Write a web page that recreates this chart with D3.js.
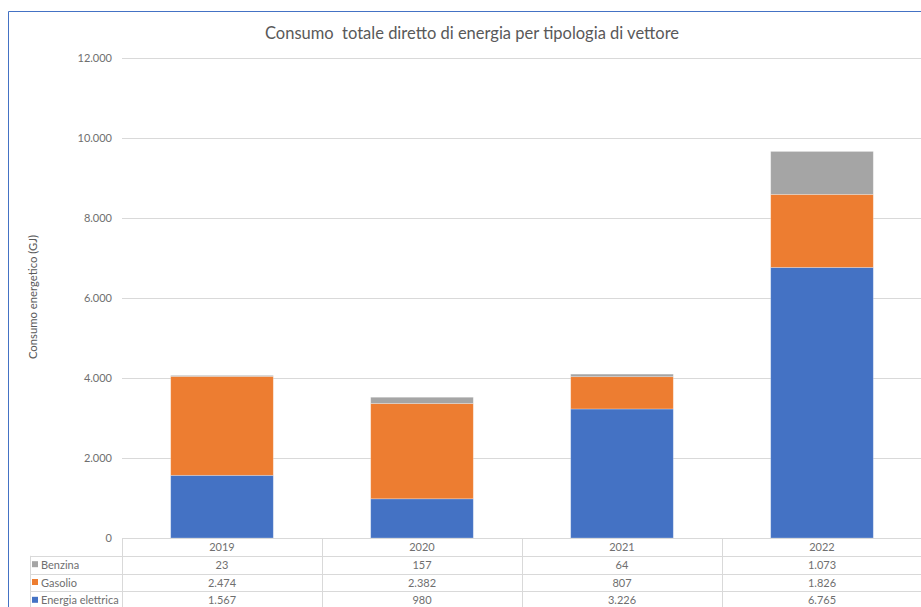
<!DOCTYPE html>
<html>
<head>
<meta charset="utf-8">
<script src="https://cdn.jsdelivr.net/npm/d3@7"></script>
<style>
  html, body { margin: 0; padding: 0; background: #fff; }
  svg { display: block; font-family: Lato, "Open Sans", "Liberation Sans", sans-serif; }
</style>
</head>
<body>
<svg id="chart" width="921" height="607"></svg>
<script>
// Years shown on the category axis
const years = ["2019", "2020", "2021", "2022"];
// Energy carriers, bottom to top of each stack
const seriesNames = ["Energia elettrica", "Gasolio", "Benzina"];
const energiaElettrica = [1567, 980, 3226, 6765];
const gasolio = [2474, 2382, 807, 1826];
const benzina = [23, 157, 64, 1073];
const seriesColors = ["#4472C4", "#ED7D31", "#A5A5A5"];
const yTicks = [0, 2000, 4000, 6000, 8000, 10000, 12000];

const valuesBySeries = {
  "Energia elettrica": energiaElettrica,
  "Gasolio": gasolio,
  "Benzina": benzina
};
const rows = years.map((y, i) => {
  const r = { year: y };
  seriesNames.forEach(s => r[s] = valuesBySeries[s][i]);
  return r;
});

const fmt = d3.formatLocale({ decimal: ",", thousands: ".", grouping: [3], currency: ["", "€"] }).format(",d");

const svg = d3.select("#chart");
const textColor = "#595959";
const tickColor = "#6f6f6f";
const gridColor = "#d9d9d9";

// Chart frame
svg.append("path")
  .attr("d", "M8.5,620 L8.5,11.5 L930,11.5")
  .attr("fill", "none").attr("stroke", "#4472C4").attr("stroke-width", 1);

// Title
svg.append("text")
  .attr("x", 472).attr("y", 39)
  .attr("text-anchor", "middle")
  .attr("font-size", 16.5)
  .attr("fill", textColor)
  .attr("xml:space", "preserve")
  .text("Consumo  totale diretto di energia per tipologia di vettore");

const plotLeft = 122, plotRight = 922, plotTop = 58, plotBottom = 538;

const x = d3.scaleBand().domain(years).range([plotLeft, plotRight]).paddingInner(0.487).paddingOuter(0.2435);
const xCol = d3.scaleBand().domain(years).range([plotLeft, plotRight]);
const y = d3.scaleLinear().domain([0, 12000]).range([plotBottom, plotTop]);

// Gridlines and tick labels
const yAxis = d3.axisLeft(y).tickValues(yTicks).tickSize(-(plotRight - plotLeft)).tickPadding(10).tickFormat(fmt);
const gy = svg.append("g").attr("transform", `translate(${plotLeft},0)`).call(yAxis);
gy.select(".domain").remove();
gy.selectAll(".tick line").attr("stroke", gridColor).attr("stroke-width", 1);
gy.selectAll(".tick text").attr("fill", tickColor).attr("font-size", 11).attr("font-family", "Lato, sans-serif");

// Y axis title
svg.append("text")
  .attr("transform", "translate(37,297) rotate(-90)")
  .attr("text-anchor", "middle")
  .attr("font-size", 11.3)
  .attr("fill", textColor)
  .text("Consumo energetico (GJ)");

// Stacked bars
const stacked = d3.stack().keys(seriesNames)(rows);
svg.append("g").selectAll("g")
  .data(stacked)
  .join("g")
  .attr("fill", (d, i) => seriesColors[i])
  .selectAll("rect")
  .data(d => d)
  .join("rect")
  .attr("x", d => x(d.data.year))
  .attr("width", x.bandwidth())
  .attr("y", d => y(d[1]))
  .attr("height", d => y(d[0]) - y(d[1]))
  .attr("stroke", "#ffffff").attr("stroke-opacity", 0.35).attr("stroke-width", 0.75);

// Data table beneath the plot
const rowH = 17.8;
const tableLeft = 30;
const tableRows = ["Benzina", "Gasolio", "Energia elettrica"];
const table = svg.append("g").attr("stroke", gridColor).attr("stroke-width", 1).attr("fill", "none");

// Horizontal rules
table.append("line").attr("x1", plotLeft).attr("x2", plotRight + 10).attr("y1", plotBottom + 0.5).attr("y2", plotBottom + 0.5);
for (let k = 1; k <= 4; k++) {
  const yy = Math.round(plotBottom + k * rowH) + 0.5;
  table.append("line").attr("x1", tableLeft).attr("x2", plotRight + 10).attr("y1", yy).attr("y2", yy);
}
// Vertical rules
years.forEach(yr => {
  const xx = Math.round(xCol(yr)) + 0.5;
  table.append("line").attr("x1", xx).attr("x2", xx).attr("y1", plotBottom).attr("y2", 620);
});
table.append("line").attr("x1", tableLeft + 0.5).attr("x2", tableLeft + 0.5).attr("y1", plotBottom + rowH).attr("y2", 620);

// Year headers
svg.append("g").selectAll("text")
  .data(years)
  .join("text")
  .attr("x", d => xCol(d) + xCol.bandwidth() / 2)
  .attr("y", plotBottom + rowH / 2 + 4)
  .attr("text-anchor", "middle")
  .attr("font-size", 11)
  .attr("fill", tickColor)
  .text(d => d);

// Legend keys and values
tableRows.forEach((name, r) => {
  const si = seriesNames.indexOf(name);
  const cy = plotBottom + (r + 1) * rowH + rowH / 2;
  svg.append("rect")
    .attr("x", 32).attr("y", cy - 3.5).attr("width", 6).attr("height", 6)
    .attr("fill", seriesColors[si]);
  svg.append("text")
    .attr("x", 41).attr("y", cy + 4)
    .attr("font-size", 11).attr("fill", tickColor)
    .text(name);
  svg.append("g").selectAll("text")
    .data(valuesBySeries[name])
    .join("text")
    .attr("x", (d, i) => xCol(years[i]) + xCol.bandwidth() / 2)
    .attr("y", cy + 4)
    .attr("text-anchor", "middle")
    .attr("font-size", 11).attr("fill", tickColor)
    .text(d => fmt(d));
});
</script>
</body>
</html>
